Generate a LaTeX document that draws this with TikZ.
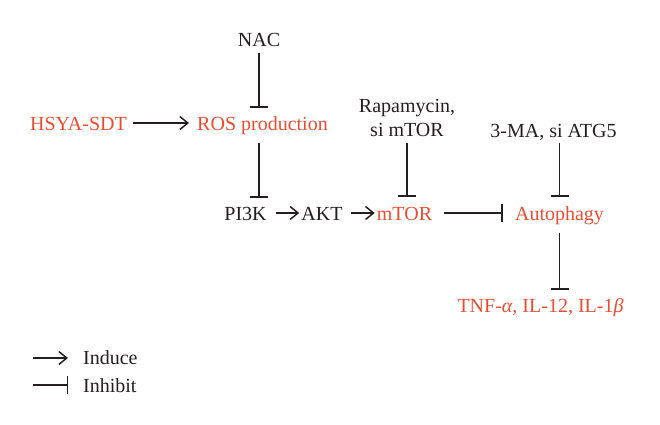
\documentclass[tikz,border=0pt]{standalone}
\usepackage{fontspec}
\setmainfont{Liberation Serif}
\usepackage{xcolor}
\usepackage{tikz}
\usetikzlibrary{arrows.meta, positioning}
\definecolor{ink}{RGB}{35,31,32}
\definecolor{hired}{RGB}{234,76,48}

\begin{document}
\begin{tikzpicture}[
        x=1pt, y=-1pt,
        % Define common styles for nodes
        factor/.style={inner sep=0pt, text height=16pt, text depth=2pt, font=\fontsize{20}{24}\selectfont, text=ink, anchor=base},
        target/.style={factor, text=hired},
        drug/.style={inner sep=0pt, align=center, font=\fontsize{20}{24}\selectfont, text=ink},
        legend_text/.style={factor, anchor=base west},
        % Styles for the connectors
        induce/.style={draw=ink, line width=1.5pt, -{Straight Barb[length=8pt,width=13pt]}},
        inhibit/.style={draw=ink, line width=1.5pt, -{Bar[width=18pt]}},
    ]
    \useasboundingbox (0,0) rectangle (660,424);

    % Upper row (stimulus and ROS)
    \node (nac) [factor] at (259,46) {NAC};
    \node (hsya) [target] at (78.5,130) {HSYA-SDT};
    \node (ros) [target] at (262.5,130) {ROS production};

    % Middle row (signalling chain)
    \node (pik) [factor] at (245.5,220) {PI3K};
    \node (akt) [factor] at (322,220) {AKT};
    \node (mtor) [target] at (404.5,220) {mTOR};
    \node (autophagy) [target] at (559.5,220) {Autophagy};

    % Inhibitors above the chain
    \node (rapamycin) [drug, anchor=south] at (407,137) {Rapamycin,\\si mTOR};
    \node (three_ma) [factor] at (553.5,137) {3-MA, si ATG5};

    % Cytokines
    \node (cytokines) [target] at (540.5,312) {TNF-\textit{α}, IL-12, IL-1\textit{β}};

    % Draw connections/arrows
    \draw[induce, shorten <=6pt, shorten >=8pt] (hsya) -- (ros);
    \draw[inhibit, shorten <=5pt, shorten >=6pt] (nac) -- (nac |- ros.north);
    \draw[inhibit, shorten <=11pt, shorten >=6pt] (nac |- ros.south) -- (nac |- pik.north);
    \draw[induce, shorten <=9pt, shorten >=2pt] (pik) -- (akt);
    \draw[induce, shorten <=8pt, shorten >=2pt] (akt) -- (mtor);
    \draw[inhibit, shorten <=6pt, shorten >=7pt] (rapamycin) -- (rapamycin |- mtor.north);
    \draw[inhibit, shorten <=12pt, shorten >=12pt] (mtor) -- (autophagy);
    \draw[inhibit, shorten <=4pt, shorten >=7pt] (autophagy |- three_ma.south) -- (autophagy.north);
    \draw[inhibit, shorten <=11pt, shorten >=6pt] (autophagy) -- (autophagy |- cytokines.north);

    % Legend
    \node (induce_label) [legend_text] at (83,364) {Induce};
    \node (inhibit_label) [legend_text] at (83,392) {Inhibit};
    \coordinate (induce_start) at (33,358);
    \coordinate (inhibit_start) at (33,385);
    \draw[induce, shorten >=15pt] (induce_start) -- (induce_start -| induce_label.west);
    \draw[inhibit, shorten >=15pt] (inhibit_start) -- (inhibit_start -| inhibit_label.west);

\end{tikzpicture}
\end{document}
